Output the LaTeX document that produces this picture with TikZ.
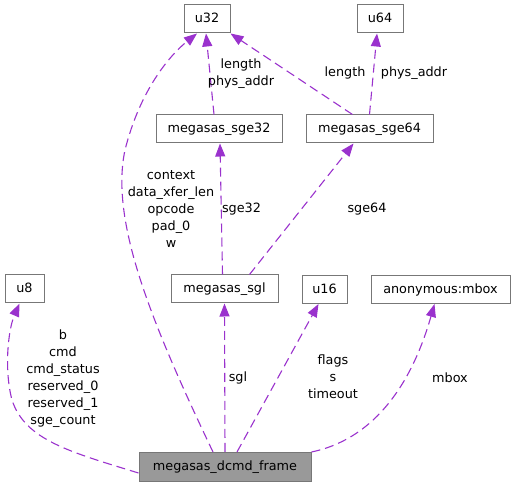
\documentclass[tikz,border=0pt]{standalone}
\usepackage{fontspec}
\setmainfont{DejaVu Sans}
\usetikzlibrary{arrows.meta}
\definecolor{edgecol}{HTML}{9A32CD}
\definecolor{boxline}{HTML}{777777}
\definecolor{mainfill}{HTML}{999999}
\begin{document}
\begin{tikzpicture}[x=1pt,y=-1pt,
  every node/.style={font=\fontsize{12.8}{17}\selectfont},
  cls/.style={draw=boxline, line width=1pt, fill=white, inner sep=0pt, minimum height=28pt, text height=10pt, text depth=2pt},
  mainbox/.style={cls, fill=mainfill},
  lbl/.style={align=center, inner sep=0pt},
  rel/.style={draw=edgecol, line width=1.1pt, dash pattern=on 9pt off 5pt, -{Triangle[length=13pt,width=10pt,fill=edgecol]}}
]
\useasboundingbox (0,0) rectangle (515,486);
% nodes
\node[cls, minimum width=46pt] (u32) at (207,19) {u32};
\node[cls, minimum width=46pt] (u64) at (380,19) {u64};
\node[cls, minimum width=126pt] (sge32) at (219,129) {megasas\_sge32};
\node[cls, minimum width=127pt] (sge64) at (369.5,129) {megasas\_sge64};
\node[cls, minimum width=39pt] (u8) at (24.5,289) {u8};
\node[cls, minimum width=107pt] (sgl) at (224.5,289) {megasas\_sgl};
\node[cls, minimum width=45pt] (u16) at (324.5,289.5) {u16};
\node[cls, minimum width=139pt] (mbox) at (440.5,289.5) {anonymous:mbox};
\node[mainbox, minimum width=172pt, minimum height=29pt] (frame) at (225,467) {megasas\_dcmd\_frame};
% edges
\draw[rel] ([yshift=-6pt]frame.west) .. controls (70,452) and (25,440) .. (12,400) .. controls (4,370) and (8,330) .. ([xshift=-5pt]u8.south);
\draw[rel] ([xshift=-12pt]frame.north) .. controls (150,320) and (110,220) .. (125,150) .. controls (140,90) and (170,55) .. ([xshift=-10pt]u32.south);
\draw[rel] ([xshift=-5pt]sge32.north) -- ([xshift=-1pt]u32.south);
\draw[rel] ([xshift=-17pt]sge64.north) -- (u32.south east);
\draw[rel] ([xshift=0pt]sge64.north) -- ([xshift=-3pt]u64.south);
\draw[rel] ([xshift=-2pt]sgl.north) -- ([xshift=1pt]sge32.south);
\draw[rel] ([xshift=25pt]sgl.north) -- ([xshift=-16pt]sge64.south);
\draw[rel] (frame.north) -- (sgl.south);
\draw[rel] ([xshift=12pt]frame.north) -- ([xshift=-6pt]u16.south);
\draw[rel] (frame.north east) .. controls (370,440) and (410,390) .. ([xshift=-6pt]mbox.south);
% labels
\node[lbl] (l1) at (63,378.5) {b\\cmd\\cmd\_status\\reserved\_0\\reserved\_1\\sge\_count};
\node[lbl] (l2) at (171,209) {context\\data\_xfer\_len\\opcode\\pad\_0\\w};
\node[lbl] (l3) at (241,73.5) {length\\phys\_addr};
\node[lbl] (l4) at (345,73) {length};
\node[lbl] (l5) at (414,73) {phys\_addr};
\node[lbl] (l6) at (241.5,209) {sge32};
\node[lbl] (l7) at (367,209) {sge64};
\node[lbl] (l8) at (238,378) {sgl};
\node[lbl] (l9) at (333,377) {flags\\s\\timeout};
\node[lbl] (l10) at (450,378) {mbox};
\end{tikzpicture}
\end{document}
